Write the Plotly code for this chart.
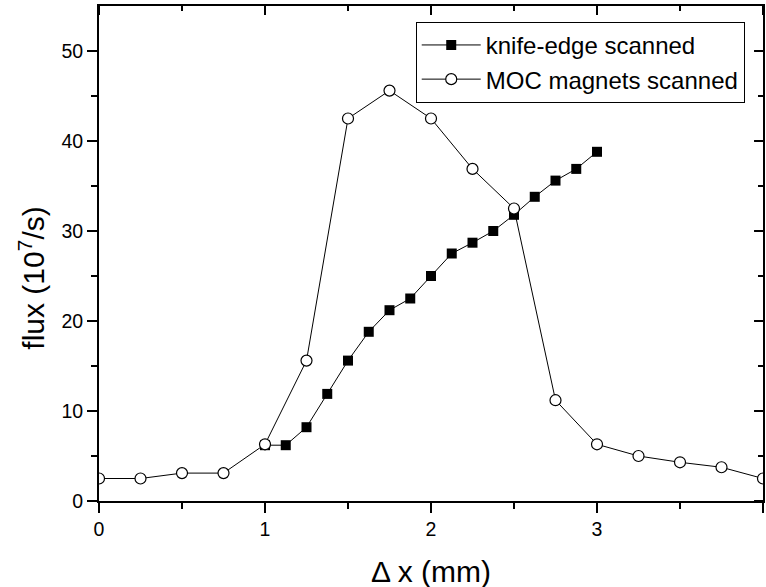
import plotly.graph_objects as go

# knife-edge scanned (filled squares)
knife_x = [1.0, 1.125, 1.25, 1.375, 1.5, 1.625, 1.75, 1.875, 2.0, 2.125, 2.25, 2.375,
           2.5, 2.625, 2.75, 2.875, 3.0]
knife_y = [6.2, 6.2, 8.2, 11.9, 15.6, 18.8, 21.2, 22.5, 25.0, 27.5, 28.7, 30.0,
           31.8, 33.8, 35.6, 36.9, 38.8]

# MOC magnets scanned (open circles)
moc_x = [0, 0.25, 0.5, 0.75, 1.0, 1.25, 1.5, 1.75, 2.0, 2.25, 2.5, 2.75, 3.0, 3.25, 3.5, 3.75, 4.0]
moc_y = [2.5, 2.5, 3.1, 3.1, 6.3, 15.6, 42.5, 45.6, 42.5, 36.9, 32.5, 11.2, 6.3, 5.0, 4.3, 3.75, 2.5]

x_ticks = [0, 1, 2, 3, 4]
x_minor = [0.5, 1.5, 2.5, 3.5]
y_ticks = [0, 10, 20, 30, 40, 50]
y_minor = [5, 15, 25, 35, 45]

X_RANGE = [0, 4]
Y_RANGE = [0, 55]
W, H = 766, 587
M = dict(l=99, r=1, t=6, b=86)
plot_w = W - M["l"] - M["r"]
plot_h = H - M["t"] - M["b"]
px_x = (X_RANGE[1] - X_RANGE[0]) / plot_w   # data units per pixel
px_y = (Y_RANGE[1] - Y_RANGE[0]) / plot_h

FONT = "Liberation Sans, Arial, Helvetica, sans-serif"

# inward tick segments for the top and right frame (built from the tick arrays)
tick_x, tick_y = [], []
for vals, ln in ((x_ticks, 9), (x_minor, 5)):
    for v in vals:
        tick_x += [v, v, None]
        tick_y += [Y_RANGE[1], Y_RANGE[1] - ln * px_y, None]
for vals, ln in ((y_ticks, 9), (y_minor, 5)):
    for v in vals:
        tick_x += [X_RANGE[1], X_RANGE[1] - ln * px_x, None]
        tick_y += [v, v, None]

fig = go.Figure()
fig.add_trace(go.Scatter(x=tick_x, y=tick_y, mode="lines", showlegend=False,
                         hoverinfo="skip", line=dict(color="black", width=2),
                         connectgaps=False, cliponaxis=False))
fig.add_trace(go.Scatter(
    x=knife_x, y=knife_y, mode="lines+markers", name="knife-edge scanned",
    line=dict(color="black", width=1),
    marker=dict(symbol="square", size=10, color="black", line=dict(width=0)),
))
fig.add_trace(go.Scatter(
    x=moc_x, y=moc_y, mode="lines+markers", name="MOC magnets scanned",
    line=dict(color="black", width=1),
    marker=dict(symbol="circle", size=11, color="white", line=dict(color="black", width=1.2)),
))

common_x = dict(range=X_RANGE, tickvals=x_ticks, showgrid=False, zeroline=False,
                showline=True, linecolor="black", linewidth=2, tickwidth=2, tickcolor="black")
common_y = dict(range=Y_RANGE, tickvals=y_ticks, showgrid=False, zeroline=False,
                showline=True, linecolor="black", linewidth=2, tickwidth=2, tickcolor="black")

fig.update_layout(
    width=W, height=H,
    margin=M,
    paper_bgcolor="white", plot_bgcolor="white",
    font=dict(family=FONT, color="black"),
    xaxis=dict(**common_x, mirror=True, ticks="outside", ticklen=10, tickfont=dict(size=19.5),
               minor=dict(tickvals=x_minor, ticks="outside", ticklen=6, tickwidth=2, tickcolor="black")),
    yaxis=dict(**common_y, mirror=True, ticks="outside", ticklen=10, tickfont=dict(size=19.5),
               minor=dict(tickvals=y_minor, ticks="outside", ticklen=6, tickwidth=2, tickcolor="black")),
    legend=dict(x=0.477, y=0.968, xanchor="left", yanchor="top",
                bgcolor="white", bordercolor="black", borderwidth=1,
                font=dict(size=24, family=FONT), tracegroupgap=0, itemwidth=59),
    showlegend=True,
    annotations=[
        dict(text="\u0394 x (mm)", xref="paper", yref="paper", x=0.5, y=-0.1434,
             showarrow=False, font=dict(size=30), xanchor="center", yanchor="middle"),
        dict(text="flux (10<sup>7</sup>/s)", xref="paper", yref="paper", x=-0.1006, y=0.4495,
             showarrow=False, font=dict(size=30), textangle=-90, xanchor="center", yanchor="middle"),
    ],
)

fig.write_html("out.html")
